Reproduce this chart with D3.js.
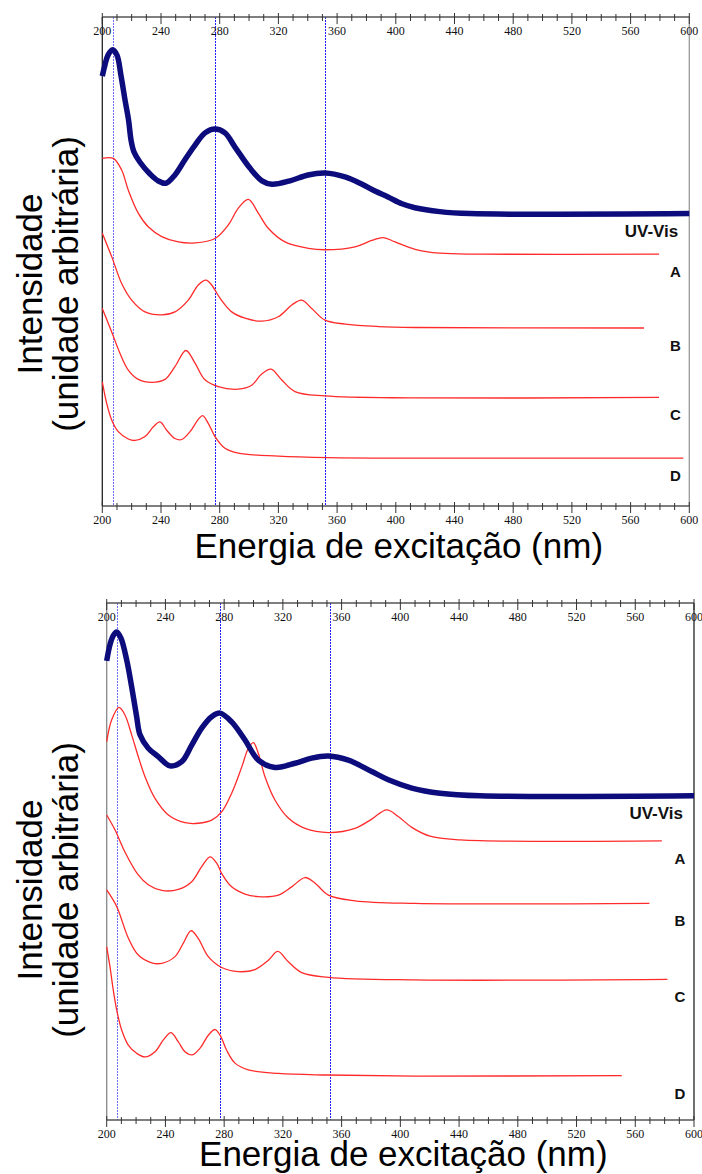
<!DOCTYPE html>
<html>
<head>
<meta charset="utf-8">
<script src="https://cdn.jsdelivr.net/npm/d3@7"></script>
<style>
  body { margin: 0; background: #fff; }
  svg { display: block; }
  .tick-label { font-family: 'Liberation Serif', 'Times New Roman', serif; font-size: 12px; fill: #111; }
  .axis-title { font-family: 'Liberation Sans', Arial, sans-serif; font-size: 35px; fill: #000; }
  .series-label { font-family: 'Liberation Sans', Arial, sans-serif; font-weight: bold; fill: #111; }
</style>
</head>
<body>
<svg id="chart" width="702" height="1174"></svg>
<script>
// wavelength axis (nm)
const tickLabels = [200, 240, 280, 320, 360, 400, 440, 480, 520, 560, 600];
const refLines = [207, 277, 352];
const seriesNames = ['UV-Vis', 'A', 'B', 'C', 'D'];

// top panel spectra: [nm, intensity (a.u.)]
const topUvVis = [[200,87.9],[201.8,90.2],[203.9,92.2],[207,93.3],[210,92.2],[212.7,88.1],[215.5,83.0],[217.9,78.9],
  [219.6,74.8],[221.6,72.4],[225.7,70.3],[232.5,67.9],[238,66.5],[243.4,66.0],[249.5,67.7],[256.3,70.8],[263.2,73.8],
  [270,76.3],[276.8,77.1],[283.6,76.3],[290.4,73.4],[300.6,69.1],[308.8,66.5],[315.6,65.8],[327.9,66.5],[340.2,67.7],
  [351.8,68.1],[365.4,67.3],[377,65.8],[385.8,64.4],[394.7,63.2],[404.2,61.8],[413,61.0],[430,60.2],[450.5,59.8],[600,59.8]];
const topA = [[200,71.1],[207.5,71.1],[213.2,68.7],[217.7,64.6],[224.5,59.9],[231.3,57.1],[240.5,55.1],[251.8,54.0],
  [263.2,53.8],[276.8,54.7],[285.9,57.5],[292.7,60.9],[299.5,62.7],[306.3,59.9],[313.1,56.8],[324.5,54.0],[340.4,52.7],
  [351.8,52.4],[372.2,53.0],[383.6,54.3],[391.5,54.9],[399.5,54.0],[413.1,52.5],[430.1,51.7],[457.4,51.5],[579.4,51.5]];
const topB = [[200,55.8],[206.4,51.0],[213.2,45.5],[220,42.1],[229.1,39.7],[240.5,39.1],[249.5,39.7],[258.6,42.1],
  [265.4,45.2],[270.7,46.2],[274.5,45.2],[280.2,42.5],[288.2,39.7],[297.2,38.4],[308.6,37.8],[319.9,38.7],[329.1,41.1],
  [335.9,42.1],[342.7,40.4],[351.8,38.0],[365.4,37.2],[388.1,36.7],[413.1,36.5],[569.1,36.4]];
const topC = [[200,40.4],[206.4,35.6],[212.1,31.2],[217.7,27.8],[224.5,25.9],[233.7,25.3],[242.7,25.9],[249.5,28.5],
  [257,31.8],[263.2,29.2],[270,25.8],[279,24.4],[292.7,23.9],[301.8,24.7],[308.6,27.0],[315,28.0],[322.2,25.8],
  [331.3,23.4],[351.8,22.5],[413.1,22.1],[579.4,22.2]];
const topD = [[200,25.4],[203,21.0],[206.4,17.6],[210.9,15.2],[217.7,13.7],[222.3,13.4],[229.1,14.2],[234.8,16.2],
  [239.3,17.2],[243.9,15.5],[249.5,13.8],[254.1,13.6],[259.8,15.2],[265.4,17.7],[268.4,18.5],[272.2,16.9],[276.8,14.2],
  [283.6,11.8],[292.7,10.8],[319.9,10.2],[354,9.9],[413.1,9.8],[595.9,9.8]];

// bottom panel spectra: [nm, intensity (a.u.)]
const bottomUvVis = [[200,88.8],[202.2,91.9],[204.3,93.6],[206.8,94.4],[209.7,93.2],[213.6,89.0],[217,83.8],[220.4,78.0],
  [222.7,74.5],[228.3,71.9],[235.1,70.3],[243.1,68.5],[251.1,69.3],[257.9,72.5],[264.7,75.8],[271.5,78.0],[277.2,78.7],
  [285.1,77.0],[294.2,73.5],[303.3,69.6],[314.6,68.2],[328.3,69.0],[339.6,70.0],[351,70.4],[364.6,69.6],[380.5,67.4],
  [391.8,65.8],[407.8,64.2],[427,63.2],[454.3,62.7],[600,62.7]];
const bottomA = [[200,73.2],[203.4,77.4],[208.4,79.8],[212.5,78.3],[217,74.5],[221.5,70.3],[226.1,66.4],[232.9,62.2],
  [242,59.0],[253.3,57.5],[262.4,57.4],[271.5,58.0],[278.3,59.6],[285.1,63.2],[292,68.3],[296.5,71.9],[299.9,73.0],
  [303.3,70.9],[307.8,66.4],[314.6,61.9],[323.7,58.4],[335.1,56.4],[351,55.6],[369.1,56.4],[380.5,58.2],[390.7,60.0],
  [398.6,58.7],[407.8,56.6],[420.2,54.9],[440.7,54.2],[578.1,54.0]];
const bottomB = [[200,59.0],[205.7,56.1],[212.5,51.8],[221.5,47.4],[228.3,45.5],[237.5,44.4],[248.8,44.6],[257.9,46.1],
  [264.7,49.0],[270.4,50.9],[274.9,49.7],[278.3,47.7],[285.1,45.1],[294.2,43.7],[303.3,43.2],[316.9,43.5],[326,45.1],
  [335.1,46.9],[341.9,45.8],[351,43.5],[369.1,42.4],[410,41.9],[569.6,41.9]];
const bottomC = [[200,44.5],[206.8,41.3],[214.7,35.2],[221.5,31.9],[230.7,30.4],[237.5,30.3],[246.5,31.6],[252.2,34.2],
  [257.4,36.6],[262.4,35.1],[269.2,31.6],[278.3,29.5],[289.6,28.7],[301,29.1],[310.1,30.9],[316.5,32.6],[323.7,30.6],
  [332.8,28.5],[351,27.6],[410,27.1],[581.9,27.2]];
const bottomD = [[200,33.5],[202.2,29.7],[204.5,25.1],[206.8,21.3],[210.2,17.4],[214.7,14.5],[220.4,12.9],[226.1,12.2],
  [232.9,13.2],[238.6,15.5],[243.8,16.9],[248.8,15.1],[253.3,13.2],[258.3,12.6],[263.6,13.9],[269.2,16.4],[273.8,17.5],
  [277.2,16.4],[281.7,13.5],[287.4,11.0],[296.5,9.7],[316.9,9.0],[351,8.7],[410,8.5],[550.8,8.6]];

const panels = [
  { left: 102.3, right: 689.3, top: 17, bottom: 506, leftAxisColor: '#222', rightAxisColor: '#999',
    yLabelCenter: 284, titleY: 558, series: [topUvVis, topA, topB, topC, topD] },
  { left: 106.7, right: 694, top: 603, bottom: 1120, leftAxisColor: '#888', rightAxisColor: '#222',
    yLabelCenter: 890, titleY: 1166, series: [bottomUvVis, bottomA, bottomB, bottomC, bottomD] }
];

const svg = d3.select('#chart');

panels.forEach((p) => {
  const x = d3.scaleLinear().domain([200, 600]).range([p.left, p.right]);
  const y = d3.scaleLinear().domain([0, 100]).range([p.bottom, p.top]);
  const g = svg.append('g');

  // dotted reference lines (snapped to the pixel grid so they stay blue)
  g.selectAll('line.ref')
    .data(refLines)
    .enter().append('line')
    .attr('class', 'ref')
    .attr('x1', (d) => Math.round(x(d)) + 0.5).attr('x2', (d) => Math.round(x(d)) + 0.5)
    .attr('y1', p.top).attr('y2', p.bottom)
    .attr('stroke', (d, i) => i === 0 ? '#6f6fff' : '#1e1eff')
    .attr('stroke-width', 1)
    .attr('stroke-dasharray', '2,1')
    .attr('shape-rendering', 'crispEdges');

  // frame: side lines
  g.append('line').attr('x1', p.left).attr('x2', p.left).attr('y1', p.top).attr('y2', p.bottom)
    .attr('stroke', p.leftAxisColor).attr('stroke-width', 1.3);
  g.append('line').attr('x1', p.right).attr('x2', p.right).attr('y1', p.top).attr('y2', p.bottom)
    .attr('stroke', p.rightAxisColor).attr('stroke-width', 1.3);

  // top and bottom wavelength axes, ticks crossing the line
  const minorTicks = d3.range(200, 601, 10);
  [p.top, p.bottom].forEach((ay) => {
    const ag = g.append('g');
    ag.append('line').attr('x1', p.left).attr('x2', p.right).attr('y1', ay).attr('y2', ay)
      .attr('stroke', '#555').attr('stroke-width', 1.3);
    ag.selectAll('line.tick')
      .data(minorTicks)
      .enter().append('line')
      .attr('class', 'tick')
      .attr('x1', (d) => x(d)).attr('x2', (d) => x(d))
      .attr('y1', (d) => ay - (d % 40 === 0 ? 4 : 3))
      .attr('y2', (d) => ay + (d % 40 === 0 ? 7 : 4))
      .attr('stroke', '#333')
      .attr('stroke-width', 1);
    ag.selectAll('text')
      .data(tickLabels)
      .enter().append('text')
      .attr('class', 'tick-label')
      .attr('x', (d) => x(d))
      .attr('y', ay + 18)
      .attr('text-anchor', 'middle')
      .text((d) => d);
  });

  const line = d3.line()
    .x((d) => x(d[0]))
    .y((d) => y(d[1]))
    .curve(d3.curveCatmullRom.alpha(0.5));

  // red excitation spectra first, then the thick UV-Vis on top
  p.series.slice(1).forEach((s) => {
    g.append('path').datum(s).attr('d', line)
      .attr('fill', 'none').attr('stroke', '#ff2b2b').attr('stroke-width', 1.3);
  });
  g.append('path').datum(p.series[0]).attr('d', line)
    .attr('fill', 'none').attr('stroke', '#0c0c7c').attr('stroke-width', 5.5)
    .attr('stroke-linejoin', 'round');

  // series labels sit under the flat tail of each curve
  p.series.forEach((s, i) => {
    const last = s[s.length - 1];
    g.append('text')
      .attr('class', 'series-label')
      .attr('x', i === 0 ? p.right - 11 : p.right - 14)
      .attr('y', y(last[1]) + 23)
      .attr('text-anchor', i === 0 ? 'end' : 'middle')
      .style('font-size', i === 0 ? '17px' : '15px')
      .text(seriesNames[i]);
  });

  // axis titles
  const yt = g.append('text')
    .attr('class', 'axis-title')
    .attr('transform', `translate(42,${p.yLabelCenter}) rotate(-90)`)
    .attr('text-anchor', 'middle');
  yt.append('tspan').attr('x', 0).attr('y', 0).text('Intensidade');
  yt.append('tspan').attr('x', 0).attr('y', 36).text('(unidade arbitrária)');

  g.append('text')
    .attr('class', 'axis-title')
    .attr('x', (p.left + p.right) / 2 + 3)
    .attr('y', p.titleY)
    .attr('text-anchor', 'middle')
    .text('Energia de excitação (nm)');
});
</script>
</body>
</html>
